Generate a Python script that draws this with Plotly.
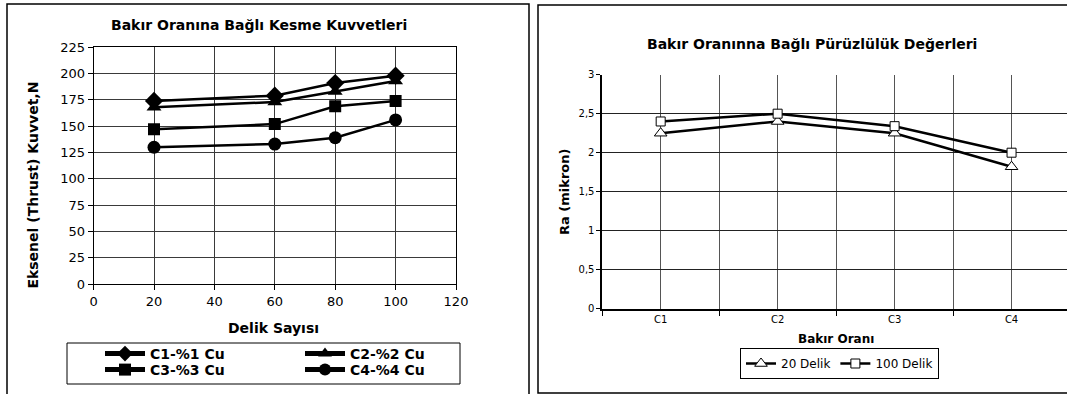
import plotly.graph_objects as go

W, H = 1067, 394

# ---------------- data ----------------
delik_sayisi = [20, 60, 80, 100]
c1_cu = [174, 179, 191, 198]
c2_cu = [168, 173, 183, 193]
c3_cu = [147, 152, 169, 174]
c4_cu = [130, 133, 139, 156]

bakir_orani = ["C1", "C2", "C3", "C4"]
ra_20_delik = [2.25, 2.40, 2.25, 1.82]
ra_100_delik = [2.40, 2.50, 2.34, 2.00]

left_series = [
    ("C1-%1 Cu", c1_cu, "diamond", 14, "legend"),
    ("C2-%2 Cu", c2_cu, "triangle-up", 13, "legend"),
    ("C3-%3 Cu", c3_cu, "square", 12, "legend2"),
    ("C4-%4 Cu", c4_cu, "circle", 13, "legend2"),
]

FONT = "DejaVu Sans"


def px_x(p):
    return p / W


def px_y(p):
    return 1 - p / H


fig = go.Figure()

for name, vals, sym, size, leg in left_series:
    fig.add_trace(go.Scatter(
        x=delik_sayisi, y=vals, name=name, mode="lines+markers",
        line=dict(color="black", width=2.5),
        marker=dict(symbol=sym, size=size, color="black"),
        xaxis="x", yaxis="y", legend=leg,
    ))

cat_idx = list(range(len(bakir_orani)))
fig.add_trace(go.Scatter(
    x=cat_idx, y=ra_20_delik, name="20 Delik", mode="lines+markers",
    line=dict(color="black", width=2.5),
    marker=dict(symbol="triangle-up", size=11, color="white",
                line=dict(color="black", width=1)),
    xaxis="x2", yaxis="y2", legend="legend3",
))
fig.add_trace(go.Scatter(
    x=cat_idx, y=ra_100_delik, name="100 Delik", mode="lines+markers",
    line=dict(color="black", width=2.5),
    marker=dict(symbol="square", size=9, color="white",
                line=dict(color="black", width=1)),
    xaxis="x2", yaxis="y2", legend="legend3",
))

grid_c = "#3a3a3a"

fig.update_layout(
    width=W, height=H,
    margin=dict(l=0, r=0, t=0, b=0, pad=0, autoexpand=False),
    paper_bgcolor="white", plot_bgcolor="white",
    separators=", ",
    font=dict(family=FONT, color="black"),
    xaxis=dict(
        domain=[px_x(93.6), px_x(456)], range=[0, 120], dtick=20,
        showgrid=True, gridcolor=grid_c, gridwidth=1,
        showline=True, linecolor="black", linewidth=1, mirror=True,
        ticks="outside", ticklen=5, tickcolor="black", zeroline=False,
        tickfont=dict(size=13, family=FONT), anchor="y",
    ),
    yaxis=dict(
        domain=[px_y(284), px_y(47.3)], range=[0, 225], dtick=25,
        showgrid=True, gridcolor=grid_c, gridwidth=1,
        showline=True, linecolor="black", linewidth=1, mirror=True,
        ticks="outside", ticklen=5, tickcolor="black", zeroline=False,
        tickfont=dict(size=13, family=FONT), anchor="x",
    ),
    xaxis2=dict(
        domain=[px_x(602.2), 1], range=[-0.5, 3.474],
        tickmode="array", tickvals=cat_idx, ticktext=bakir_orani,
        ticks="", showgrid=True, gridcolor="#555", gridwidth=1,
        minor=dict(tickmode="array", tickvals=[-0.5, 0.5, 1.5, 2.5, 3.5],
                   ticks="outside", ticklen=5, tickcolor="black",
                   showgrid=True, gridcolor="#555", gridwidth=1),
        showline=True, linecolor="black", linewidth=1.5, zeroline=False,
        tickfont=dict(size=10, family=FONT), anchor="y2",
    ),
    yaxis2=dict(
        domain=[px_y(308.8), px_y(74.65)], range=[0, 3], dtick=0.5,
        showgrid=True, gridcolor="#222", gridwidth=1,
        showline=True, linecolor="black", linewidth=1.5,
        ticks="outside", ticklen=4, tickcolor="black", zeroline=False,
        tickfont=dict(size=10, family=FONT), anchor="x2",
    ),
    legend=dict(
        orientation="h", x=px_x(100), y=px_y(354), xanchor="left", yanchor="middle",
        bgcolor="rgba(0,0,0,0)", borderwidth=0, entrywidth=145, entrywidthmode="pixels",
        itemsizing="constant", itemwidth=40,
        font=dict(size=14, family=FONT, weight="bold"), itemclick=False,
    ),
    legend2=dict(
        orientation="h", x=px_x(100), y=px_y(370), xanchor="left", yanchor="middle",
        bgcolor="rgba(0,0,0,0)", borderwidth=0, entrywidth=145, entrywidthmode="pixels",
        itemsizing="constant", itemwidth=40,
        font=dict(size=14, family=FONT, weight="bold"), itemclick=False,
    ),
    legend3=dict(
        orientation="h", x=px_x(740), y=px_y(348), xanchor="left", yanchor="top",
        bgcolor="white", bordercolor="black", borderwidth=1,
        font=dict(size=12, family=FONT), itemclick=False,
    ),
    showlegend=True,
)

annotations = [
    dict(text="Bakır Oranına Bağlı Kesme Kuvvetleri", x=px_x(258.6), y=px_y(25),
         font=dict(size=14, family=FONT, weight="bold")),
    dict(text="Eksenel (Thrust) Kuvvet,N", x=px_x(33), y=px_y(185.6), textangle=-90,
         font=dict(size=14, family=FONT, weight="bold")),
    dict(text="Delik Sayısı", x=px_x(273), y=px_y(328),
         font=dict(size=14, family=FONT, weight="bold")),
    dict(text="Bakır Oranınna Bağlı Pürüzlülük Değerleri", x=px_x(812), y=px_y(44),
         font=dict(size=14, family=FONT, weight="bold")),
    dict(text="Ra (mikron)", x=px_x(564), y=px_y(192), textangle=-90,
         font=dict(size=13, family=FONT, weight="bold")),
    dict(text="Bakır Oranı", x=px_x(836), y=px_y(339),
         font=dict(size=12, family=FONT, weight="bold")),
]
for a in annotations:
    a.update(xref="paper", yref="paper", showarrow=False, xanchor="center", yanchor="middle")
    fig.add_annotation(**a)

shapes = [
    # left chart frame
    dict(type="rect", x0=px_x(7), x1=px_x(529), y0=px_y(410), y1=px_y(4),
         line=dict(color="black", width=1.5)),
    # right chart frame
    dict(type="rect", x0=px_x(538), x1=px_x(1090), y0=px_y(393), y1=px_y(5),
         line=dict(color="black", width=1.5)),
    # left legend box
    dict(type="rect", x0=px_x(67), x1=px_x(460), y0=px_y(384), y1=px_y(343),
         line=dict(color="black", width=1)),
]
for s in shapes:
    s.update(xref="paper", yref="paper", layer="above")
    fig.add_shape(**s)

fig.write_html("out.html")
